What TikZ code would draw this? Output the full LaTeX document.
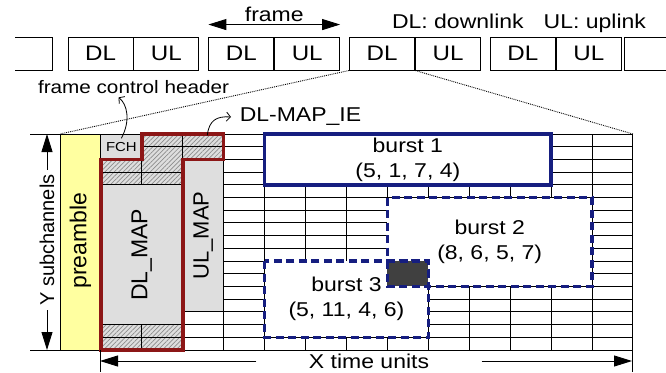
\documentclass[tikz,border=0pt]{standalone}
\usepackage{fontspec}
\setmainfont{Liberation Sans}[FakeStretch=1.15]
\newfontfamily\rotfont{Liberation Sans}
\usetikzlibrary{arrows.meta,patterns.meta,positioning}
\definecolor{mapred}{RGB}{140,22,22}
\definecolor{burstblue}{RGB}{22,30,128}
\definecolor{preyellow}{RGB}{255,255,160}
\definecolor{mapgray}{RGB}{222,222,222}
\definecolor{idlegray}{RGB}{64,64,64}

\begin{document}
\begin{tikzpicture}[x=1pt, y=-1pt, line width=0.9pt,
	tip/.style={-{Triangle[length=18pt,width=11pt]}},
	tips/.style={{Triangle[length=18pt,width=11pt]}-{Triangle[length=18pt,width=11pt]}},
	curly/.style={-{Straight Barb[length=4pt,width=9pt]}, line width=0.8pt},
	slot/.style={draw, minimum width=65pt, minimum height=33pt, inner sep=0pt, font=\fontsize{21}{24}\selectfont},
	lbl/.style={font=\fontsize{20}{25}\selectfont},
	rlbl/.style={rotate=90, font=\rotfont\fontsize{#1}{#1}\selectfont},
	hatch/.style={preaction={fill=mapgray}, pattern={Lines[angle=45, distance=3.2pt, line width=0.7pt]}, pattern color=gray!90},
	mapline/.style={draw=mapred, line width=3.6pt},
	burst/.style={draw=burstblue, line width=3.4pt, fill=white},
	burstdash/.style={burst, dash pattern=on 8pt off 4.5pt}]
	\useasboundingbox (0,0) rectangle (666,372);

	% frames
	\node[slot] (dl1) at (100.5,53.5) {DL};
	\node[slot, right=0pt of dl1] (ul1) {UL};
	\node[slot, right=9pt of ul1] (dl2) {DL};
	\node[slot, right=0pt of dl2] (ul2) {UL};
	\node[slot, right=9pt of ul2] (dl3) {DL};
	\node[slot, right=0pt of dl3] (ul3) {UL};
	\node[slot, right=9pt of ul3] (dl4) {DL};
	\node[slot, right=0pt of dl4] (ul4) {UL};
	\draw (15,37) -| (52,70) -- (15,70);
	\draw (666,37) -| (624,70) -- (666,70);
	\coordinate (fa) at ([yshift=12pt]dl2.north west);
	\coordinate (fb) at ([yshift=12pt]ul2.north east);
	\draw[tips] (fa) -- (fb) node[lbl, midway, above=-1pt] (frametxt) {frame};
	\node[lbl] (legend) at (519,23.5) {DL: downlink\quad UL: uplink};
	\node[font=\fontsize{18}{20}\selectfont] (fchtxt) at (133.5,87) {frame control header};
	\node[lbl, anchor=west] (ietxt) at (236,117) {DL-MAP\_IE};

	% zoomed DL subframe
	\begin{scope}[shift={(60,134)}, x=40.923pt, y=-12.706pt]
		\draw[fill=preyellow] (0,0) rectangle (1,17);
		\node[rlbl=23] (pre) at (0.5,8.4) {preamble};
		\foreach \r in {1,...,16} \draw (4,\r) -- (14,\r);
		\foreach \r in {14,15,16} \draw (3,\r) -- (4,\r);
		\foreach \c in {4,...,14} \draw (\c,0) -- (\c,17);
		\draw (-0.733,0) -- (14,0);
		\draw (-0.733,17) -- (14,17);
		% FCH, DL_MAP, UL_MAP
		\draw[fill=mapgray] (1,0) rectangle (2,2);
		\node[font=\fontsize{13}{13}\selectfont] (fch) at (1.5,1) {FCH};
		\fill[mapgray] (1,2) rectangle (3,17);
		\draw[fill=mapgray] (3,2) rectangle (4,14);
		\path[hatch] (2,0) rectangle (4,2);
		\path[hatch] (1,2) rectangle (3,4);
		\path[hatch] (1,15) rectangle (3,17);
		\draw (2,1) -- (4,1) (3,0) -- (3,2);
		\draw (1,3) -- (3,3) (1,4) -- (3,4) (2,2) -- (2,4);
		\draw (1,15) -- (3,15) (1,16) -- (3,16) (2,15) -- (2,17);
		\node[rlbl=23] (dlmap) at (2,9.5) {DL\_MAP};
		\node[rlbl=22] (ulmap) at (3.5,8) {UL\_MAP};
		\draw[mapline] (1,2) -| (2,0) -| (4,2) -| (3,17) -- (1,17) -- cycle;
		\coordinate (ie) at (3.6,0.1);
		% bursts
		\draw[burst] (5,0) rectangle (12,4);
		\node[lbl, align=center] (b1) at (8.5,2) {burst 1\\(5, 1, 7, 4)};
		\draw[burstdash] (8,5) rectangle (13,12);
		\node[lbl, align=center] (b2) at (10.5,8.5) {burst 2\\(8, 6, 5, 7)};
		\draw[burstdash] (5,10) rectangle (9,16);
		\node[lbl, align=center] (b3) at (7,13) {burst 3\\(5, 11, 4, 6)};
		\draw[burstdash, fill=idlegray] (8,10) rectangle (9,12);
		\coordinate (gtl) at (0,0);
		\coordinate (gtr) at (14,0);
		\coordinate (gbl) at (1,17);
		\coordinate (gbr) at (14,17);
	\end{scope}

	\draw[densely dotted, line width=0.9pt] (dl3.south west) -- (gtl);
	\draw[densely dotted, line width=0.9pt] (dl3.south east) -- (gtr);
	\draw[curly] (fch.north) .. controls (131,120) and (127,104) .. ([xshift=-15pt]fchtxt.south);
	\draw[curly] (ie) .. controls (209,120) and (217,116) .. ([xshift=-5pt]ietxt.west);

	% axes
	\coordinate (ytop) at (47,134);
	\coordinate (ybot) at (47,350);
	\node[rlbl=20, inner sep=4pt] (ylbl) at (47,240) {Y subchannels};
	\draw[tip] (ylbl) -- (ytop);
	\draw[tip] (ylbl) -- (ybot);
	\draw (gbl) -- ++(0,22);
	\draw (gbr) -- ++(0,22);
	\coordinate (xl) at (100,361);
	\coordinate (xr) at (632,361);
	\node[lbl, inner xsep=52pt] (xlbl) at (369,361) {X time units};
	\draw[tip] (xlbl) -- (xl);
	\draw[tip] (xlbl) -- (xr);
\end{tikzpicture}
\end{document}
